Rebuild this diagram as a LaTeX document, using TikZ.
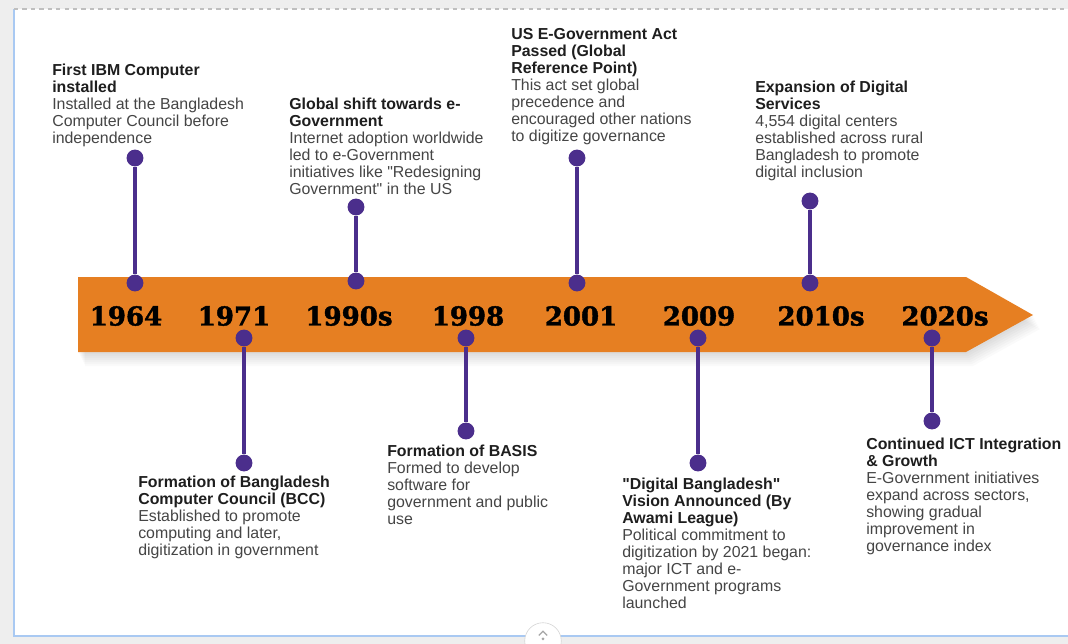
\documentclass[tikz,border=0pt]{standalone}
\usepackage{fontspec}
\setmainfont{Liberation Sans}
\newfontfamily\yearfont[BoldFeatures={FakeBold=1.6}]{DejaVu Serif}
\usepackage{xcolor}
\usetikzlibrary{positioning}

\definecolor{bandorange}{HTML}{E67F22}
\definecolor{pinpurple}{HTML}{4B2E8C}
\definecolor{headgray}{HTML}{1E1E1E}
\definecolor{bodygray}{HTML}{454545}
\definecolor{pagegray}{HTML}{EEEEEE}
\definecolor{frameblue}{HTML}{A9C9F2}

\newcommand{\evhead}[1]{{\bfseries\color{headgray}#1}}

\begin{document}
\begin{tikzpicture}[x=0.025cm, y=-0.025cm,
    event/.style={anchor=north west, inner sep=0pt, align=left, font=\fontsize{11.3}{12.1}\selectfont, text=bodygray},
    year/.style={font=\yearfont\bfseries\fontsize{18.5}{20}\selectfont, text=black, inner sep=0pt},
    pin/.style={circle, fill=pinpurple, inner sep=0pt, minimum size=12pt},
    stem/.style={pinpurple, line width=2.2pt}
]
\useasboundingbox (0,0) rectangle (1068,644);

% page and frame
\fill[pagegray] (0,0) rectangle (1068,644);
\fill[white] (14,9) rectangle (1068,636);
\draw[frameblue, line width=1.2pt] (14,9) -- (14,636) -- (1068,636);
\draw[gray!50, dashed, line width=0.8pt] (14,9) -- (1068,9);

% band with soft shadow
\foreach \s in {2,4,...,14}
  \fill[black, opacity=0.018, shift={(\s/2,\s)}] (78,277) -- (966,277) -- (1033,315) -- (966,352) -- (78,352) -- cycle;
\fill[bandorange] (78,277) -- (966,277) -- (1033,315) -- (966,352) -- (78,352) -- cycle;

% years
\node[year] (y1964) at (126,316) {1964};
\node[year] (y1971) at (234,316) {1971};
\node[year] (y1990) at (349,316) {1990s};
\node[year] (y1998) at (468,316) {1998};
\node[year] (y2001) at (581,316) {2001};
\node[year] (y2009) at (699,316) {2009};
\node[year] (y2010) at (821,316) {2010s};
\node[year] (y2020) at (945,316) {2020s};

% pins above the band
\node[pin] (t1964) at (135,158) {};
\node[pin] (b1964) at (135,283) {};
\node[pin] (t1990) at (356,207) {};
\node[pin] (b1990) at (356,281) {};
\node[pin] (t2001) at (577,158) {};
\node[pin] (b2001) at (577,283) {};
\node[pin] (t2010) at (810,201) {};
\node[pin] (b2010) at (810,283) {};

% pins below the band
\node[pin] (t1971) at (244,338) {};
\node[pin] (b1971) at (244,463) {};
\node[pin] (t1998) at (466,338) {};
\node[pin] (b1998) at (466,431) {};
\node[pin] (t2009) at (698,338) {};
\node[pin] (b2009) at (698,463) {};
\node[pin] (t2020) at (932,338) {};
\node[pin] (b2020) at (932,421) {};

\draw[stem] (t1964) -- (b1964);
\draw[stem] (t1990) -- (b1990);
\draw[stem] (t2001) -- (b2001);
\draw[stem] (t2010) -- (b2010);
\draw[stem] (t1971) -- (b1971);
\draw[stem] (t1998) -- (b1998);
\draw[stem] (t2009) -- (b2009);
\draw[stem] (t2020) -- (b2020);

% events above
\node[event] (e1964) at (52,64) {\evhead{First IBM Computer}\\\evhead{installed}\\Installed at the Bangladesh\\Computer Council before\\independence};
\node[event] (e1990) at (289,98) {\evhead{Global shift towards e-}\\\evhead{Government}\\Internet adoption worldwide\\led to e-Government\\initiatives like \textquotedbl Redesigning\\Government\textquotedbl{} in the US};
\node[event] (e2001) at (511,28) {\evhead{US E-Government Act}\\\evhead{Passed (Global}\\\evhead{Reference Point)}\\This act set global\\precedence and\\encouraged other nations\\to digitize governance};
\node[event] (e2010) at (755,81) {\evhead{Expansion of Digital}\\\evhead{Services}\\4,554 digital centers\\established across rural\\Bangladesh to promote\\digital inclusion};

% events below
\node[event] (e1971) at (138,476) {\evhead{Formation of Bangladesh}\\\evhead{Computer Council (BCC)}\\Established to promote\\computing and later,\\digitization in government};
\node[event] (e1998) at (387,445) {\evhead{Formation of BASIS}\\Formed to develop\\software for\\government and public\\use};
\node[event] (e2009) at (622,478) {\evhead{\textquotedbl Digital Bangladesh\textquotedbl}\\\evhead{Vision Announced (By}\\\evhead{Awami League)}\\Political commitment to\\digitization by 2021 began:\\major ICT and e-\\Government programs\\launched};
\node[event] (e2020) at (866,438) {\evhead{Continued ICT Integration}\\\evhead{\& Growth}\\E-Government initiatives\\expand across sectors,\\showing gradual\\improvement in\\governance index};

% scroll button
\node[circle, draw=gray!35, fill=white, minimum size=26pt, inner sep=0pt] (upbtn) at (543,641) {};
\draw[gray!70, line width=0.9pt] ([xshift=-3pt,yshift=4pt]upbtn.center) -- ([yshift=7pt]upbtn.center) -- ([xshift=3pt,yshift=4pt]upbtn.center);
\fill[gray!70] ([yshift=1.5pt]upbtn.center) circle (1.1pt);

\end{tikzpicture}
\end{document}
